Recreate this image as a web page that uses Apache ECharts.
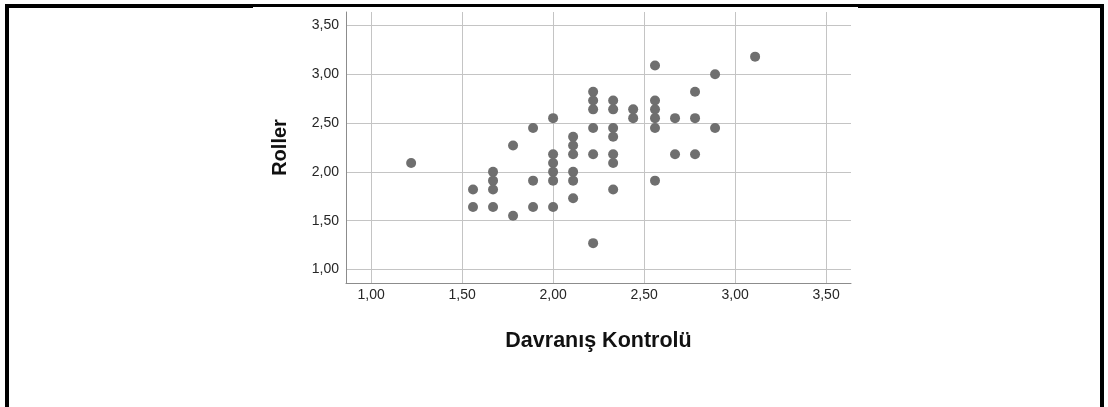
<!DOCTYPE html>
<html>
<head>
<meta charset="utf-8">
<script src="https://cdn.jsdelivr.net/npm/echarts@6/dist/echarts.min.js"></script>
<style>
  html, body { margin: 0; padding: 0; background: #ffffff; }
  #chart { width: 1108px; height: 407px; }
</style>
</head>
<body>
<div id="chart"></div>
<script>
// Davranış Kontrolü (x) and Roller (y) scores, one entry per respondent
const davranisKontrolu = [
  1.22,
  1.56, 1.56,
  1.67, 1.67, 1.67, 1.67,
  1.78, 1.78,
  1.89, 1.89, 1.89,
  2.00, 2.00, 2.00, 2.00, 2.00, 2.00,
  2.11, 2.11, 2.11, 2.11, 2.11, 2.11,
  2.22, 2.22, 2.22, 2.22, 2.22, 2.22,
  2.33, 2.33, 2.33, 2.33, 2.33, 2.33, 2.33,
  2.44, 2.44,
  2.56, 2.56, 2.56, 2.56, 2.56, 2.56,
  2.67, 2.67,
  2.78, 2.78, 2.78,
  2.89, 2.89,
  3.11
];
const roller = [
  2.09,
  1.82, 1.64,
  2.00, 1.91, 1.82, 1.64,
  2.27, 1.55,
  2.45, 1.91, 1.64,
  2.55, 2.18, 2.09, 2.00, 1.91, 1.64,
  2.36, 2.27, 2.18, 2.00, 1.91, 1.73,
  2.82, 2.73, 2.64, 2.45, 2.18, 1.27,
  2.73, 2.64, 2.45, 2.36, 2.18, 2.09, 1.82,
  2.64, 2.55,
  3.09, 2.73, 2.64, 2.55, 2.45, 1.91,
  2.55, 2.18,
  2.82, 2.55, 2.18,
  3.00, 2.45,
  3.18
];

// shared scale for both axes
const tickValues = [1.0, 1.5, 2.0, 2.5, 3.0, 3.5];
const tickLabels = ['1,00', '1,50', '2,00', '2,50', '3,00', '3,50'];
const axisMin = 0.862;
const axisMax = 3.637;

const xTitle = 'Davranış Kontrolü';
const yTitle = 'Roller';

const points = davranisKontrolu.map((x, i) => [x, roller[i]]);
const labelFor = v => {
  const i = tickValues.findIndex(t => Math.abs(t - v) < 1e-6);
  return i >= 0 ? tickLabels[i] : '';
};

const FONT = '"Liberation Sans", Arial, sans-serif';

function makeAxis(name, isX) {
  return {
    type: 'value',
    min: axisMin,
    max: axisMax,
    name: name,
    nameLocation: 'middle',
    nameGap: isX ? 47 : 56,
    nameTextStyle: {
      fontFamily: FONT,
      fontSize: isX ? 21.5 : 20,
      fontWeight: 'bold',
      color: '#111111'
    },
    axisLine: { show: true, onZero: false, lineStyle: { color: '#8c8c8c', width: 1 } },
    axisTick: { show: false, customValues: tickValues },
    axisLabel: {
      customValues: tickValues,
      formatter: labelFor,
      fontFamily: FONT,
      fontSize: 14,
      color: '#262626',
      margin: isX ? 5 : 7
    },
    splitLine: { show: true, lineStyle: { color: '#c4c4c4', width: 1 } }
  };
}

const chart = echarts.init(document.getElementById('chart'), null, { renderer: 'canvas' });
chart.setOption({
  animation: false,
  backgroundColor: '#ffffff',
  grid: { left: 346, right: 257, top: 12, bottom: 124, containLabel: false },
  xAxis: makeAxis(xTitle, true),
  yAxis: makeAxis(yTitle, false),
  series: [{
    type: 'scatter',
    data: points,
    symbol: 'circle',
    symbolSize: 10,
    itemStyle: { color: '#6f6f6f', opacity: 1 },
    silent: true
  }],
  graphic: [
    {
      type: 'rect',
      shape: { x: 7, y: 6, width: 1095, height: 440 },
      style: { fill: 'none', stroke: '#000000', lineWidth: 4 },
      silent: true,
      z: 10
    },
    {
      type: 'rect',
      shape: { x: 253, y: 7, width: 605, height: 2 },
      style: { fill: '#ffffff' },
      silent: true,
      z: 11
    }
  ]
});
</script>
</body>
</html>
